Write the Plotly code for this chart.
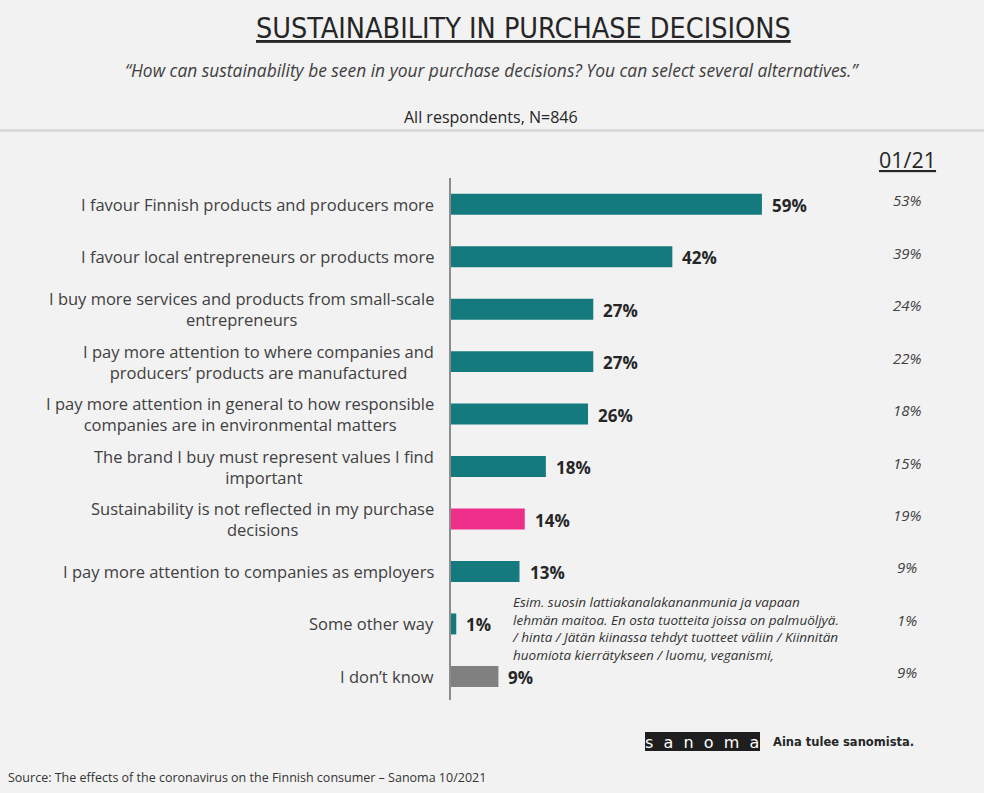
import plotly.graph_objects as go

categories = [
    "I favour Finnish products and producers more",
    "I favour local entrepreneurs or products more",
    "I buy more services and products from small-scale<br>entrepreneurs",
    "I pay more attention to where companies and<br>producers’ products are manufactured",
    "I pay more attention in general to how responsible<br>companies are in environmental matters",
    "The brand I buy must represent values I find<br>important",
    "Sustainability is not reflected in my purchase<br>decisions",
    "I pay more attention to companies as employers",
    "Some other way",
    "I don’t know",
]
values_1021 = [59, 42, 27, 27, 26, 18, 14, 13, 1, 9]
values_0121 = [53, 39, 24, 22, 18, 15, 19, 9, 1, 9]
bar_colors = ["#147a7d"] * 6 + ["#ee2f8a"] + ["#147a7d"] * 2 + ["#808080"]

title = "SUSTAINABILITY IN PURCHASE DECISIONS"
subtitle = "“How can sustainability be seen in your purchase decisions? You can select several alternatives.”"
base_text = "All respondents, N=846"
compare_header = "01/21"
other_note = ("Esim. suosin lattiakanalakananmunia ja vapaan<br>lehmän maitoa. En osta tuotteita joissa on palmuöljyä.<br>"
              "/ hinta / Jätän kiinassa tehdyt tuotteet väliin / Kiinnitän<br>huomiota kierrätykseen / luomu, veganismi,")
source = "Source: The effects of the coronavirus on the Finnish consumer – Sanoma 10/2021"

W, H = 984, 793
L, R, T, B = 451, 6, 178, 93
PW, PH = W - L - R, H - T - B
XMAX = PW / 5.27


def px(x):
    return (x - L) / PW


def py(y):
    return (H - B - y) / PH


FONT = "Open Sans, Lato, DejaVu Sans, sans-serif"
TXT = "#404040"

fig = go.Figure()
fig.add_trace(go.Bar(
    x=values_1021, y=categories, orientation="h",
    marker=dict(color=bar_colors, line=dict(width=0)),
    width=0.4, hoverinfo="skip",
))

ann = []
# category labels
for c in categories:
    ann.append(dict(x=px(436), xref="paper", y=c, yref="y", text=c, showarrow=False,
                    xanchor="right", yanchor="middle", align="center",
                    font=dict(family=FONT, size=16.5, color=TXT)))
# value labels
for c, v in zip(categories, values_1021):
    ann.append(dict(x=v, xref="x", y=c, yref="y", text=f"<b>{v}%</b>", showarrow=False,
                    xanchor="left", yanchor="middle", xshift=8, yshift=-1,
                    font=dict(family=FONT, size=17, color="#262626")))
# comparison column
for c, v in zip(categories, values_0121):
    ann.append(dict(x=px(907), xref="paper", y=c, yref="y", text=f"<i>{v}%</i>", showarrow=False,
                    xanchor="center", yanchor="middle", yshift=4,
                    font=dict(family=FONT, size=15, color=TXT)))
ann.append(dict(x=px(907), xref="paper", y=py(160), yref="paper", text=compare_header, showarrow=False,
                xanchor="center", yanchor="middle",
                font=dict(family=FONT, size=21.5, color="#262626", lineposition="under")))
# note for other
ann.append(dict(x=px(510), xref="paper", y=categories[8], yref="y", text=f"<i>{other_note}</i>",
                showarrow=False, xanchor="left", yanchor="middle", align="left", yshift=-5,
                font=dict(family=FONT, size=13.5, color="#333333")))
# titles
ann.append(dict(x=px(523), xref="paper", y=py(28), yref="paper", text=title, showarrow=False,
                xanchor="center", yanchor="middle",
                font=dict(family="Liberation Sans Narrow, DejaVu Sans Condensed, sans-serif", size=28.5,
                          color="#262626", lineposition="under")))
ann.append(dict(x=px(492), xref="paper", y=py(70), yref="paper", text=f"<i>{subtitle}</i>", showarrow=False,
                xanchor="center", yanchor="middle",
                font=dict(family=FONT, size=17.4, color=TXT)))
ann.append(dict(x=px(491), xref="paper", y=py(117), yref="paper", text=base_text, showarrow=False,
                xanchor="center", yanchor="middle",
                font=dict(family=FONT, size=16, color="#262626")))
# source
ann.append(dict(x=px(6), xref="paper", y=py(777), yref="paper", text=source, showarrow=False,
                xanchor="left", yanchor="middle",
                font=dict(family=FONT, size=12.5, color="#333333")))
# sanoma logo
ann.append(dict(x=px(702), xref="paper", y=py(742), yref="paper", text="s  a  n  o  m  a", showarrow=False,
                xanchor="center", yanchor="middle",
                font=dict(family="DejaVu Sans, sans-serif", size=16, color="white")))
ann.append(dict(x=px(771), xref="paper", y=py(742), yref="paper", text="<b>Aina tulee sanomista.</b>",
                showarrow=False, xanchor="left", yanchor="middle",
                font=dict(family="DejaVu Sans, sans-serif", size=11.5, color="#262626")))

shapes = [
    dict(type="line", xref="paper", yref="paper", x0=px(0), x1=px(W), y0=py(130.5), y1=py(130.5),
         line=dict(color="#d9d9d9", width=3)),
    dict(type="rect", xref="paper", yref="paper", x0=px(645), x1=px(760), y0=py(751), y1=py(732),
         fillcolor="#1e1e1e", line=dict(width=0), layer="below"),
]

fig.update_layout(
    width=W, height=H,
    margin=dict(l=L, r=R, t=T, b=B),
    paper_bgcolor="#f2f2f2", plot_bgcolor="#f2f2f2",
    showlegend=False,
    xaxis=dict(range=[0, XMAX], visible=False, fixedrange=True),
    yaxis=dict(range=[9.45, -0.5], showticklabels=False, ticks="", showgrid=False, zeroline=False,
               showline=True, linecolor="#8c8c8c", linewidth=1.5, fixedrange=True),
    annotations=ann, shapes=shapes,
    bargap=0.6,
)

fig.write_html("out.html", config={"displayModeBar": False},
               post_script="document.body.style.margin='0';document.body.style.background='#f2f2f2';")
